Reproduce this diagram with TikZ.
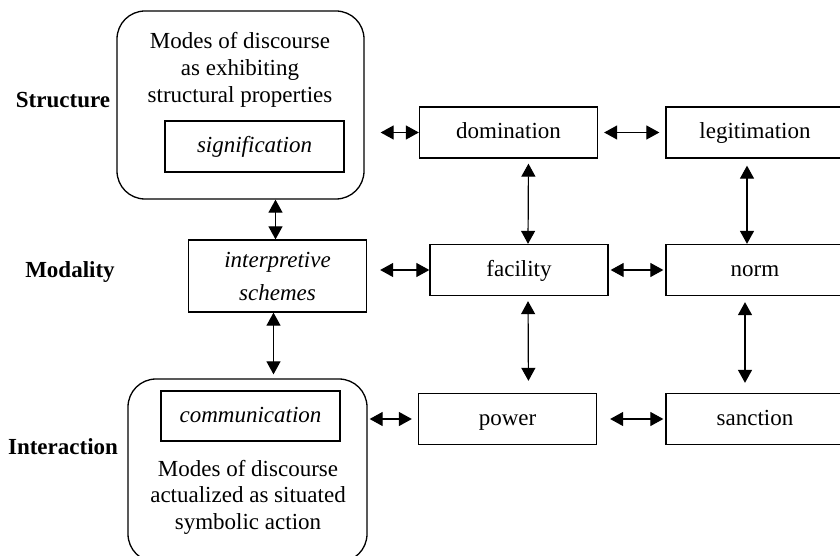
\documentclass[tikz,border=0pt]{standalone}
\usepackage{fontspec}
\setmainfont{Liberation Serif}
\usetikzlibrary{arrows.meta}
\begin{document}
\begin{tikzpicture}[x=1pt,y=-1pt]
\tikzstyle{every node}=[font=\fontsize{23}{27}\selectfont];
\tikzstyle{box}=[draw,line width=1.3pt,minimum width=178pt,minimum height=51pt,inner sep=0pt];
\tikzstyle{cell}=[box,text height=17pt,text depth=4pt];
\tikzstyle{rbox}=[draw,line width=1.3pt,rounded corners=28pt,inner sep=0pt];
\tikzstyle{lbl}=[font=\fontsize{23}{27}\selectfont\bfseries];
\tikzstyle{arr}=[{Triangle[length=13pt,width=14pt]}-{Triangle[length=13pt,width=14pt]},line width=1.2pt];

\useasboundingbox (0,0) rectangle (840,556);
\clip (0,0) rectangle (840,556);

  \node[lbl] (structure) at (63,100) {Structure};
  \node[lbl] (modality) at (70,272) {Modality};
  \node[lbl] (interaction) at (63,447) {Interaction};

  \node[rbox,minimum width=247pt,minimum height=188pt] (top) at (240.5,105) {};
  \node[align=center] (toptext) at (240,70) {Modes of discourse\\as exhibiting\\structural properties};
  \node[cell,minimum width=179pt,font=\fontsize{23}{27}\selectfont\itshape] (sig) at (254.5,146.5) {signification};

  \node[box,minimum height=72pt,align=center,font=\fontsize{23}{33}\selectfont\itshape] (sch) at (277.5,276) {interpretive\\schemes};

  \node[rbox,minimum width=239pt,minimum height=183pt] (bot) at (247.5,470.5) {};
  \node[cell,minimum width=179pt,minimum height=50pt,font=\fontsize{23}{27}\selectfont\itshape] (com) at (250.5,416) {communication};
  \node[align=center,font=\fontsize{23}{26.5}\selectfont] (bottext) at (248,497) {Modes of discourse\\actualized as situated\\symbolic action};

  \node[cell] (dom) at (508.5,132.5) {domination};
  \node[cell] (leg) at (755,132.5) {legitimation};
  \node[cell] (fac) at (519,270) {facility};
  \node[cell] (nrm) at (755,270) {norm};
  \node[cell] (pow) at (507.5,419) {power};
  \node[cell] (san) at (755,419) {sanction};

\foreach \from/\to/\a/\b in {top/dom/16/0, dom/leg/6/6, sch/fac/13/0, fac/nrm/2/2, bot/pow/2/6, pow/san/13/2}
\draw [arr,shorten <=\a pt,shorten >=\b pt] (\from.east |- \to.west) -- (\to.west);

\foreach \from/\fx/\to/\tx/\a/\b in {top/35/sch/-2/0/0, sch/-4/bot/26/0/4, dom/20/fac/9/5/0, leg/-8/nrm/-8/7/0, fac/9/pow/21/5/12, nrm/-10/san/-10/6/10}
\draw [arr,shorten <=\a pt,shorten >=\b pt] ([xshift=\fx pt]\from.south) -- ([xshift=\tx pt]\to.north);

\end{tikzpicture}
\end{document}
